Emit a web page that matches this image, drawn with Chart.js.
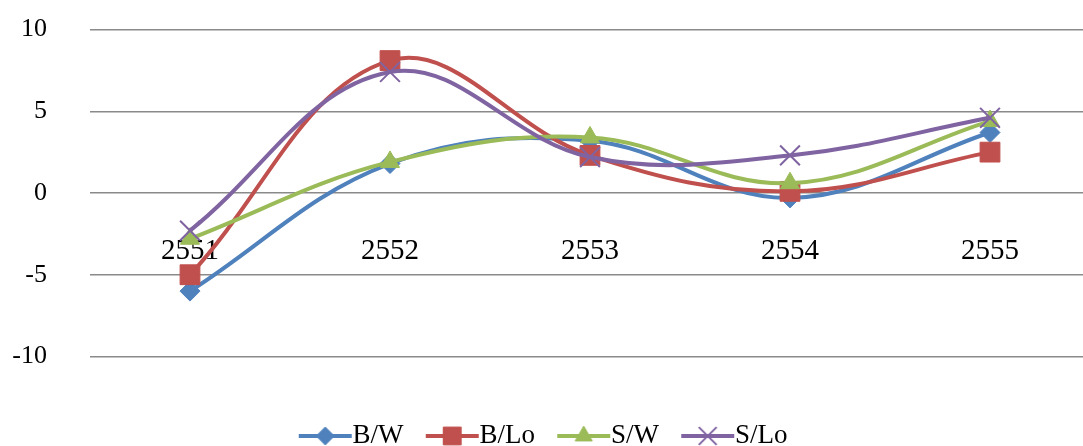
<!DOCTYPE html>
<html>
<head>
<meta charset="utf-8">
<script src="https://cdn.jsdelivr.net/npm/chart.js@4.4.1/dist/chart.umd.min.js"></script>
<style>
  html, body { margin: 0; padding: 0; background: #fff; }
  canvas { display: block; }
</style>
</head>
<body>
<canvas id="myChart" width="1083" height="446"></canvas>
<script>
const years = ['2551', '2552', '2553', '2554', '2555'];
const seriesNames = ['B/W', 'B/Lo', 'S/W', 'S/Lo'];
const bw = [-6.0, 1.8, 3.2, -0.3, 3.7];
const bLo = [-5.0, 8.1, 2.3, 0.1, 2.5];
const sw = [-2.8, 1.9, 3.4, 0.6, 4.4];
const sLo = [-2.3, 7.4, 2.2, 2.3, 4.6];
const yTicks = [-10, -5, 0, 5, 10];

const colors = ['#4f81bd', '#c0504d', '#9bbb59', '#8064a2'];
const markers = ['rectRot', 'rect', 'triangle', 'crossRot'];
const markerSizes = [10, 14, 11, 14];

// legend icon: short line with the marker in the middle
const makeLegendIcon = (i) => {
  const c = document.createElement('canvas');
  c.width = 140;
  c.height = 30;
  const ctx = c.getContext('2d');
  const a = 59;
  ctx.strokeStyle = colors[i];
  ctx.lineWidth = 4;
  ctx.beginPath();
  ctx.moveTo(a, 15);
  ctx.lineTo(a + 53, 15);
  ctx.stroke();
  ctx.fillStyle = colors[i];
  ctx.lineWidth = i === 3 ? 2 : 1;
  Chart.helpers.drawPoint(ctx, {
    pointStyle: markers[i],
    radius: markerSizes[i] * 0.9,
    rotation: 0,
    borderWidth: ctx.lineWidth
  }, a + 26.5, 15);
  return c;
};

const allData = [bw, bLo, sw, sLo];
const datasets = seriesNames.map((name, i) => ({
  label: name,
  data: allData[i],
  borderColor: colors[i],
  backgroundColor: colors[i],
  borderWidth: 4,
  tension: 0.38,
  pointStyle: markers[i],
  pointRadius: markerSizes[i],
  pointHoverRadius: markerSizes[i],
  pointBorderWidth: i === 3 ? 2 : 1,
  order: 4 - i
}));

const icons = seriesNames.map((n, i) => makeLegendIcon(i));

const noPad = (axis) => {
  axis.paddingLeft = 0;
  axis.paddingRight = 0;
  axis.paddingTop = 0;
  axis.paddingBottom = 0;
};

// one category = 200px; the plot runs past the right edge of the canvas
const firstYear = Number(years[0]);
const xMin = firstYear - 0.5;
const xMax = xMin + (1083 - 90) / 200;

new Chart(document.getElementById('myChart'), {
  type: 'line',
  data: { labels: years, datasets: datasets },
  options: {
    responsive: false,
    animation: false,
    layout: { autoPadding: false, padding: { left: -15, right: 0, top: 29.5, bottom: -13.5 } },
    scales: {
      x: {
        type: 'linear',
        position: { y: 0 },
        min: xMin,
        max: xMax,
        afterBuildTicks: (axis) => { axis.ticks = years.map(v => ({ value: Number(v) })); },
        afterFit: noPad,
        grid: { display: false, drawTicks: false },
        border: { display: false },
        ticks: {
          color: '#000',
          padding: 41,
          maxRotation: 0,
          autoSkip: false,
          callback: (v, i) => years[i],
          font: { family: 'Liberation Serif', size: 29 }
        }
      },
      y: {
        min: -10,
        max: 10,
        afterBuildTicks: (axis) => { axis.ticks = yTicks.map(v => ({ value: v })); },
        afterFit: (axis) => { axis.width = 105; noPad(axis); },
        grid: { color: '#8a8a8a', lineWidth: 1.5, drawTicks: false },
        border: { display: false },
        ticks: {
          color: '#000',
          padding: 43,
          font: { family: 'Liberation Serif', size: 26 }
        }
      }
    },
    plugins: {
      tooltip: { enabled: false },
      legend: {
        position: 'bottom',
        title: { display: true, text: '', padding: { top: 27, bottom: 23 }, font: { size: 10 } },
        labels: {
          usePointStyle: true,
          pointStyleWidth: 58.5,
          padding: 4,
          color: '#000',
          font: { family: 'Liberation Serif', size: 27 },
          sort: (a, b) => a.datasetIndex - b.datasetIndex,
          generateLabels: (chart) => {
            const items = Chart.defaults.plugins.legend.labels.generateLabels(chart);
            return items.map(it => Object.assign(it, { pointStyle: icons[it.datasetIndex] }));
          }
        }
      }
    }
  }
});
</script>
</body>
</html>
